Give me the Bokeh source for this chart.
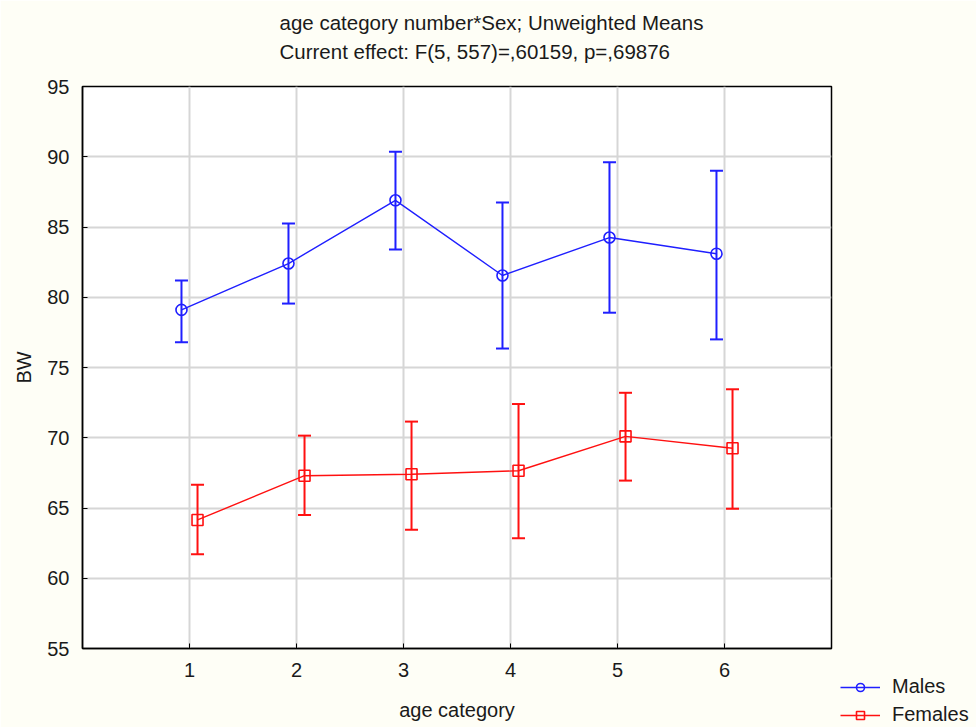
from bokeh.plotting import figure
from bokeh.models import (ColumnDataSource, Whisker, TeeHead, FixedTicker, Title,
                          Legend, LegendItem, Range1d)
from bokeh.transform import dodge
from bokeh.embed import file_html
from bokeh.resources import INLINE

# ---- data ----
age = [1, 2, 3, 4, 5, 6]
males_mean = [79.1, 82.4, 86.9, 81.55, 84.25, 83.1]
males_upper = [81.2, 85.25, 90.35, 86.75, 89.6, 89.0]
males_lower = [76.8, 79.55, 83.4, 76.35, 78.9, 77.0]
females_mean = [64.15, 67.3, 67.4, 67.65, 70.1, 69.25]
females_upper = [66.65, 70.15, 71.15, 72.4, 73.2, 73.45]
females_lower = [61.7, 64.5, 63.45, 62.85, 66.95, 64.95]
x_ticks = [1, 2, 3, 4, 5, 6]
y_ticks = [55, 60, 65, 70, 75, 80, 85, 90, 95]
title_lines = ["age category number*Sex; Unweighted Means",
               "Current effect: F(5, 557)=,60159, p=,69876"]

FONT = "Liberation Sans, Arial, sans-serif"
TXT = "#1a1a1a"
BG = "#fefef6"
BLUE = "#1f1fff"
RED = "#ff1010"

p = figure(width=976, height=727, output_backend="svg", toolbar_location=None,
           x_range=Range1d(0, 7), y_range=Range1d(55, 95),
           min_border_left=82, min_border_top=86, min_border_right=145,
           min_border_bottom=79,
           background_fill_color="white", border_fill_color=BG)
p.frame_width = 749
p.frame_height = 562

p.outline_line_color = "black"
p.outline_line_width = 1.5

for ax in (p.xaxis[0], p.yaxis[0]):
    ax.axis_line_color = "black"
    ax.axis_line_width = 1.5
    ax.major_tick_in = 5
    ax.major_tick_out = 0
    ax.minor_tick_line_color = None
    ax.major_tick_line_color = "black"
    ax.major_label_text_font = FONT
    ax.major_label_text_font_size = "20px"
    ax.major_label_text_color = TXT
    ax.axis_label_text_font = FONT
    ax.axis_label_text_font_size = "20px"
    ax.axis_label_text_font_style = "normal"
    ax.axis_label_text_color = TXT

p.xaxis.ticker = FixedTicker(ticks=x_ticks)
p.yaxis.ticker = FixedTicker(ticks=y_ticks)
p.xaxis.axis_label = "age category"
p.yaxis.axis_label = "BW"
p.xaxis.major_label_standoff = 14
p.yaxis.major_label_standoff = 13
p.xaxis.axis_label_standoff = 19
p.yaxis.axis_label_standoff = 9

p.xgrid.ticker = FixedTicker(ticks=x_ticks)
p.ygrid.ticker = FixedTicker(ticks=y_ticks)
for g in (p.xgrid[0], p.ygrid[0]):
    g.grid_line_color = "#d6d6d6"
    g.grid_line_width = 2

src = ColumnDataSource(dict(age=age, m=males_mean, mu=males_upper, ml=males_lower,
                            f=females_mean, fu=females_upper, fl=females_lower))

mx = dodge("age", -0.075, range=p.x_range)
fx = dodge("age", 0.075, range=p.x_range)

ml = p.line(x=mx, y="m", source=src, line_color=BLUE, line_width=1.4)
fl = p.line(x=fx, y="f", source=src, line_color=RED, line_width=1.4)

for base, up, lo, col in ((mx, "mu", "ml", BLUE), (fx, "fu", "fl", RED)):
    w = Whisker(base=base, upper=up, lower=lo, source=src, dimension="height",
                line_color=col, line_width=2,
                upper_head=TeeHead(size=13, line_color=col, line_width=2),
                lower_head=TeeHead(size=13, line_color=col, line_width=2))
    p.add_layout(w)

ms = p.scatter(x=mx, y="m", source=src, marker="circle", size=11,
               fill_alpha=0, line_color=BLUE, line_width=1.6)
fs = p.scatter(x=fx, y="f", source=src, marker="square", size=11,
               fill_alpha=0, line_color=RED, line_width=1.6)

# two-line title (trailing blank line lifts the block to its place)
p.add_layout(Title(text="\n".join(title_lines + [" "]), align="left", offset=197,
                   vertical_align="bottom", standoff=-11.5,
                   text_font=FONT, text_font_size="20.5px", text_font_style="normal",
                   text_color=TXT, text_line_height=1.274), "above")

legend = Legend(items=[LegendItem(label="Males", renderers=[ml, ms]),
                       LegendItem(label="Females", renderers=[fl, fs])],
                location=(9, -78), orientation="vertical",
                glyph_width=40, glyph_height=20, label_height=20, spacing=5,
                label_standoff=12, padding=0, margin=0,
                border_line_alpha=0, background_fill_alpha=0,
                label_text_font=FONT, label_text_font_size="20px",
                label_text_color=TXT)
p.add_layout(legend, "right")

open("out.html", "w").write(file_html(p, INLINE))
